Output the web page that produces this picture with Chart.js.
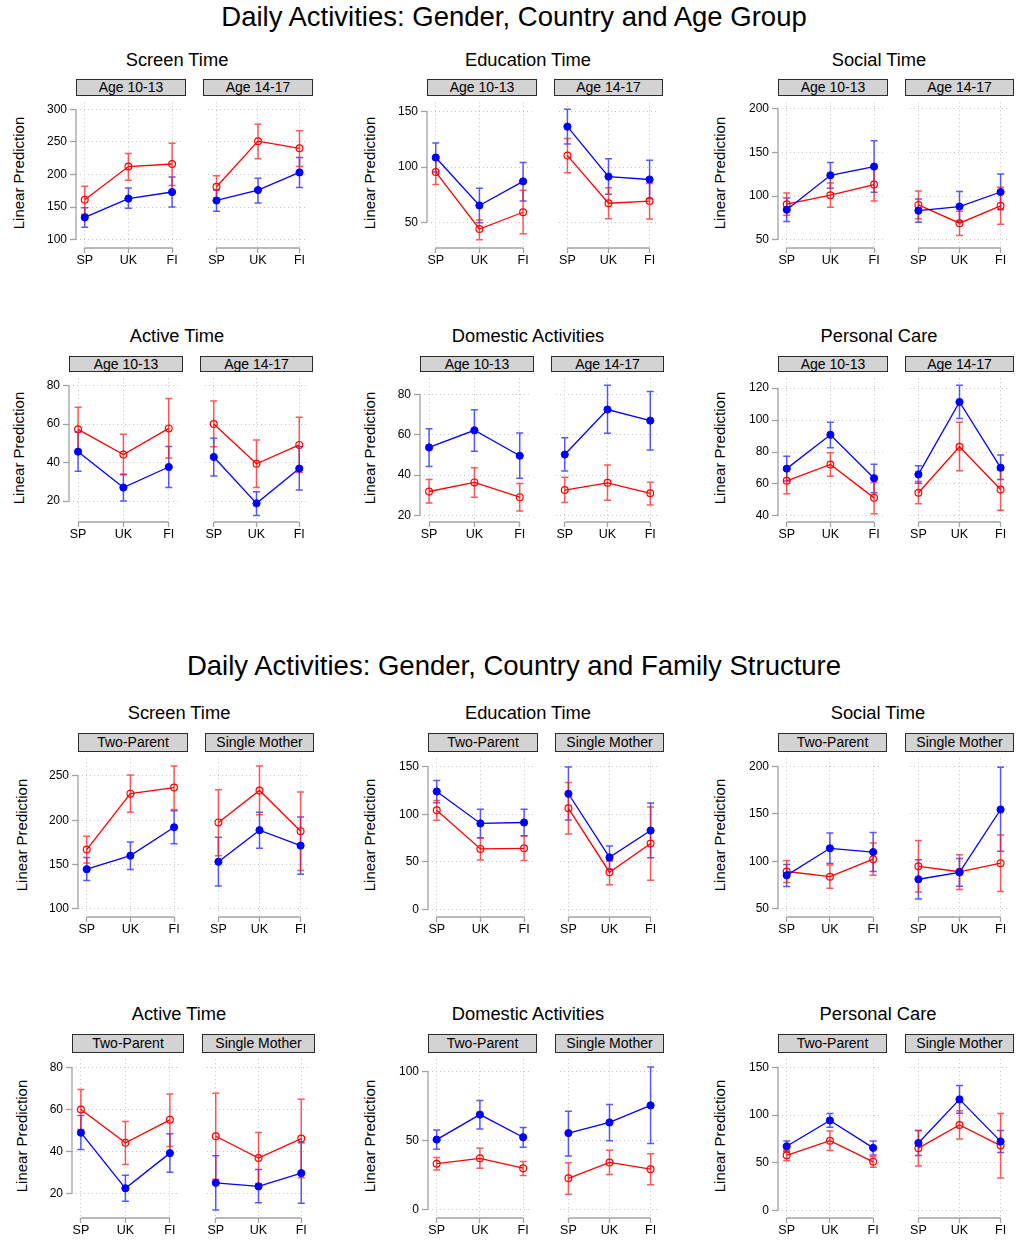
<!DOCTYPE html>
<html>
<head>
<meta charset="utf-8">
<title>Daily Activities</title>
<script src="https://cdn.jsdelivr.net/npm/chart.js@4.4.1/dist/chart.umd.min.js"></script>
<style>
  body { margin: 0; background: #fff; font-family: "Liberation Sans", Arial, Helvetica, sans-serif; }
  #page { position: relative; width: 1016px; height: 1240px; overflow: hidden; background: #fff; }
  .t { position: absolute; white-space: nowrap; transform: translate(-50%, -50%); color: #000; line-height: 1; }
  .strip { position: absolute; box-sizing: border-box; background: #d3d3d3; border: 1px solid #2b2b2b;
           text-align: center; font-size: 14px; color: #000; white-space: nowrap; }
  canvas { position: absolute; }
</style>
</head>
<body>
<div id="page"></div>
<script>
// ---------- categories and tick labels ----------
const countries   = ['SP', 'UK', 'FI'];
const ageGroups   = ['Age 10-13', 'Age 14-17'];
const familyTypes = ['Two-Parent', 'Single Mother'];

const ageScreenTicks    = [100, 150, 200, 250, 300];
const ageEducTicks      = [50, 100, 150];
const ageSocialTicks    = [50, 100, 150, 200];
const ageActiveTicks    = [20, 40, 60, 80];
const ageDomesticTicks  = [20, 40, 60, 80];
const agePersonalTicks  = [40, 60, 80, 100, 120];
const famScreenTicks    = [100, 150, 200, 250];
const famEducTicks      = [0, 50, 100, 150];
const famSocialTicks    = [50, 100, 150, 200];
const famActiveTicks    = [20, 40, 60, 80];
const famDomesticTicks  = [0, 50, 100];
const famPersonalTicks  = [0, 50, 100, 150];

// ---------- predictions with confidence limits ----------
// each entry: [panel 1 (SP, UK, FI), panel 2 (SP, UK, FI)]
const ageScreenGirls = { mean: [[134, 163, 173], [160, 176, 203]],
                         lo:   [[119, 148, 150], [143.5, 156, 180]],
                         hi:   [[149, 179, 196], [176, 194, 226]] };
const ageScreenBoys  = { mean: [[161, 212, 216], [181, 251, 240]],
                         lo:   [[139, 191, 183], [164, 224, 212]],
                         hi:   [[182, 232, 248], [198, 277, 267]] };

const ageEducGirls = { mean: [[108.6, 65.4, 87.1], [136.4, 91.4, 88.8]],
                       lo:   [[95.6, 49.8, 69.4], [120.7, 75.5, 71.4]],
                       hi:   [[121.6, 81, 104.2], [152, 107.4, 106.2]] };
const ageEducBoys  = { mean: [[95.5, 44.2, 59.3], [110.3, 67.4, 69.4]],
                       lo:   [[84.2, 34.6, 39.9], [94.9, 53.5, 53.2]],
                       hi:   [[106.8, 52.3, 79], [125.7, 81.3, 85.1]] };

const ageSocialGirls = { mean: [[84.4, 123.9, 133.9], [83.3, 88, 104.7]],
                         lo:   [[70.7, 109.1, 104.3], [70, 70.7, 84.4]],
                         hi:   [[97.7, 138.7, 163.4], [96.6, 105.4, 125.4]] };
const ageSocialBoys  = { mean: [[90.7, 101, 113.2], [89.9, 68.9, 88.8]],
                         lo:   [[78.1, 87.3, 94.3], [74, 54.8, 67.8]],
                         hi:   [[103.6, 115, 132.2], [105.8, 82.5, 110.2]] };

const ageActiveGirls = { mean: [[45.7, 27, 37.7], [42.9, 18.8, 36.9]],
                         lo:   [[35.5, 20, 27], [33, 12.5, 25.7]],
                         hi:   [[55.9, 33.9, 48.4], [52.6, 24.8, 48.4]] };
const ageActiveBoys  = { mean: [[57.3, 44.2, 57.8], [60.1, 39.4, 49.2]],
                         lo:   [[45.8, 33.7, 42.4], [48.2, 27, 34.9]],
                         hi:   [[68.8, 54.8, 73.3], [72, 51.8, 63.6]] };

const ageDomesticGirls = { mean: [[53.7, 62.2, 49.6], [50.2, 72.5, 67]],
                           lo:   [[44.3, 51.8, 38.5], [42, 60.7, 52.5]],
                           hi:   [[63, 72.4, 60.9], [58.5, 84.5, 81.4]] };
const ageDomesticBoys  = { mean: [[31.9, 36.4, 29.1], [32.6, 36.2, 31]],
                           lo:   [[26.2, 29.1, 22.2], [26.4, 27.6, 25.2]],
                           hi:   [[37.8, 43.7, 35.9], [38.9, 45, 36.5]] };

const agePersonalGirls = { mean: [[69.6, 90.8, 63.6], [66, 111.3, 70.2]],
                           lo:   [[61.9, 82.7, 54.5], [60.4, 100.9, 62.8]],
                           hi:   [[77.3, 98.6, 72.4], [71.4, 121.8, 78.1]] };
const agePersonalBoys  = { mean: [[62, 72.2, 51.3], [54.5, 83.3, 56.5]],
                           lo:   [[53.9, 64.8, 41.4], [47.7, 68.2, 43.6]],
                           hi:   [[70.1, 79.5, 61], [61.6, 98.6, 68.6]] };

const famScreenGirls = { mean: [[144.8, 160.1, 192.1], [153.2, 188.8, 171.4]],
                         lo:   [[132, 144.4, 173.5], [125.9, 168.4, 139]],
                         hi:   [[157.9, 175.4, 210.7], [180.8, 208.9, 203.8]] };
const famScreenBoys  = { mean: [[167, 230, 236.9], [197.6, 233.6, 187.7]],
                         lo:   [[151.7, 208.9, 212.1], [160.1, 206.3, 143.3]],
                         hi:   [[181.9, 251.1, 261.3], [234.3, 261.3, 231.8]] };

const famEducGirls = { mean: [[123.9, 90.3, 91.3], [121.5, 54.6, 82.8]],
                       lo:   [[112, 75.3, 77.4], [94, 42.4, 54.3]],
                       hi:   [[135.4, 105.2, 105.2], [149.7, 66.5, 111.7]] };
const famEducBoys  = { mean: [[104.2, 63.5, 64.1], [106.2, 39, 69.2]],
                       lo:   [[93.7, 51.9, 51.2], [79.1, 25.8, 30.5]],
                       hi:   [[114.4, 75, 77], [133.4, 50.6, 107.6]] };

const famSocialGirls = { mean: [[85.1, 113.7, 109.7], [81, 88.2, 154.7]],
                         lo:   [[73.2, 97.7, 89.2], [60.2, 73.5, 110.7]],
                         hi:   [[96.7, 129.8, 130.5], [101.5, 102.8, 199.3]] };
const famSocialBoys  = { mean: [[89.2, 83.7, 102.2], [94.7, 88.9, 98]],
                         lo:   [[77.6, 71.5, 85.1], [67.4, 70.1, 68.1]],
                         hi:   [[100.8, 96, 119.2], [121.9, 106.9, 127.7]] };

const famActiveGirls = { mean: [[48.9, 22.5, 39.2], [25.1, 23.4, 29.7]],
                         lo:   [[40.9, 16.3, 30.1], [12.2, 15.6, 15.4]],
                         hi:   [[57.1, 28.7, 48.4], [38, 31.4, 44.1]] };
const famActiveBoys  = { mean: [[59.9, 44.1, 55], [47.2, 36.9, 46.1]],
                         lo:   [[50.4, 33.8, 42.4], [26.8, 24.8, 27.5]],
                         hi:   [[69.4, 54.2, 67.3], [67.6, 49, 64.8]] };

const famDomesticGirls = { mean: [[50.8, 68.9, 52.5], [55.5, 63.2, 75.6]],
                           lo:   [[43.8, 58.5, 45.2], [38.9, 49.9, 48]],
                           hi:   [[57.8, 79.2, 59.5], [71.4, 76.3, 103.5]] };
const famDomesticBoys  = { mean: [[33.3, 37.2, 30], [22.7, 34.2, 29.3]],
                           lo:   [[28.8, 30, 24.8], [11.2, 25.5, 18]],
                           hi:   [[37.7, 44.5, 34.9], [34, 43.1, 40.5]] };

const famPersonalGirls = { mean: [[67.2, 94.3, 65.5], [70.6, 116.4, 72.3]],
                           lo:   [[61.8, 87.2, 58], [57.4, 101.8, 60.7]],
                           hi:   [[72.6, 101.5, 72.6], [83.8, 131, 83.8]] };
const famPersonalBoys  = { mean: [[57.7, 73, 50.9], [65.2, 89.6, 67.9]],
                           lo:   [[51.9, 62.8, 45.1], [46.5, 74.7, 34]],
                           hi:   [[63.1, 83.1, 56.3], [83.8, 104.5, 101.5]] };

// ---------- page layout ----------
const rowA1 = { titleY: 60,   stripTop: 79,   stripBottom: 96,   plotBottom: 248 };
const rowA2 = { titleY: 336,  stripTop: 356,  stripBottom: 372,  plotBottom: 522 };
const rowB1 = { titleY: 713,  stripTop: 733,  stripBottom: 752,  plotBottom: 917 };
const rowB2 = { titleY: 1014, stripTop: 1034, stripBottom: 1053, plotBottom: 1218 };

const subplots = [
  { title: 'Screen Time', strips: ageGroups, row: rowA1, girls: ageScreenGirls, boys: ageScreenBoys,
    ticks: ageScreenTicks, yMin: 87.1, yMax: 310.8, titleX: 177, yTitleX: 18, boxes: [[76, 186], [203, 313]] },
  { title: 'Education Time', strips: ageGroups, row: rowA1, girls: ageEducGirls, boys: ageEducBoys,
    ticks: ageEducTicks, yMin: 27.1, yMax: 158.4, titleX: 528, yTitleX: 369, boxes: [[427, 537], [554, 663]] },
  { title: 'Social Time', strips: ageGroups, row: rowA1, girls: ageSocialGirls, boys: ageSocialBoys,
    ticks: ageSocialTicks, yMin: 40.4, yMax: 207.8, titleX: 879, yTitleX: 719, boxes: [[778, 888], [905, 1014]] },
  { title: 'Active Time', strips: ageGroups, row: rowA2, girls: ageActiveGirls, boys: ageActiveBoys,
    ticks: ageActiveTicks, yMin: 9.1, yMax: 83.9, titleX: 177, yTitleX: 18, boxes: [[69, 183], [200, 313]] },
  { title: 'Domestic Activities', strips: ageGroups, row: rowA2, girls: ageDomesticGirls, boys: ageDomesticBoys,
    ticks: ageDomesticTicks, yMin: 16.8, yMax: 88.0, titleX: 528, yTitleX: 369, boxes: [[420, 534], [551, 664]] },
  { title: 'Personal Care', strips: ageGroups, row: rowA2, girls: agePersonalGirls, boys: agePersonalBoys,
    ticks: agePersonalTicks, yMin: 36.2, yMax: 126.2, titleX: 879, yTitleX: 719, boxes: [[778, 888], [905, 1014]] },

  { title: 'Screen Time', strips: familyTypes, row: rowB1, girls: famScreenGirls, boys: famScreenBoys,
    ticks: famScreenTicks, yMin: 90.9, yMax: 270.0, titleX: 179, yTitleX: 21, boxes: [[78, 188], [205, 314]] },
  { title: 'Education Time', strips: familyTypes, row: rowB1, girls: famEducGirls, boys: famEducBoys,
    ticks: famEducTicks, yMin: -8.1, yMax: 158.9, titleX: 528, yTitleX: 369, boxes: [[428, 538], [555, 664]] },
  { title: 'Social Time', strips: familyTypes, row: rowB1, girls: famSocialGirls, boys: famSocialBoys,
    ticks: famSocialTicks, yMin: 41.1, yMax: 208.9, titleX: 878, yTitleX: 719, boxes: [[778, 887], [905, 1014]] },
  { title: 'Active Time', strips: familyTypes, row: rowB2, girls: famActiveGirls, boys: famActiveBoys,
    ticks: famActiveTicks, yMin: 8.4, yMax: 83.8, titleX: 179, yTitleX: 21, boxes: [[72, 184], [202, 315]] },
  { title: 'Domestic Activities', strips: familyTypes, row: rowB2, girls: famDomesticGirls, boys: famDomesticBoys,
    ticks: famDomesticTicks, yMin: -6.1, yMax: 109.1, titleX: 528, yTitleX: 369, boxes: [[428, 537], [555, 664]] },
  { title: 'Personal Care', strips: familyTypes, row: rowB2, girls: famPersonalGirls, boys: famPersonalBoys,
    ticks: famPersonalTicks, yMin: -8.1, yMax: 158.6, titleX: 878, yTitleX: 719, boxes: [[778, 887], [905, 1014]] }
];

const mainTitles = [
  { text: 'Daily Activities: Gender, Country and Age Group', x: 514, y: 17 },
  { text: 'Daily Activities: Gender, Country and Family Structure', x: 514, y: 666 }
];

// ---------- drawing helpers ----------
Chart.defaults.font.family = '"Liberation Sans", Arial, Helvetica, sans-serif';
const page = document.getElementById('page');

function addText(text, x, y, size, vertical) {
  const d = document.createElement('div');
  d.className = 't';
  d.textContent = text;
  d.style.left = x + 'px';
  d.style.top = y + 'px';
  d.style.fontSize = size + 'px';
  if (vertical) d.style.transform = 'translate(-50%, -50%) rotate(-90deg)';
  page.appendChild(d);
}

function addStrip(text, l, r, t, b) {
  const d = document.createElement('div');
  d.className = 'strip';
  d.textContent = text;
  d.style.left = l + 'px';
  d.style.top = t + 'px';
  d.style.width = (r - l) + 'px';
  d.style.height = (b - t) + 'px';
  d.style.lineHeight = (b - t - 2) + 'px';
  page.appendChild(d);
}

// confidence-interval caps, drawn beneath the connected points
const errorBars = {
  id: 'errorBars',
  beforeDatasetsDraw(chart) {
    const { ctx, scales: { x, y } } = chart;
    chart.data.datasets.forEach(ds => {
      ctx.save();
      ctx.strokeStyle = ds.errColor;
      ctx.lineWidth = 1.5;
      ds.data.forEach((pt, i) => {
        const px = x.getPixelForValue(pt.x);
        const top = y.getPixelForValue(ds.hi[i]);
        const bot = y.getPixelForValue(ds.lo[i]);
        ctx.beginPath();
        ctx.moveTo(px, top); ctx.lineTo(px, bot);
        ctx.moveTo(px - 3.5, top); ctx.lineTo(px + 3.5, top);
        ctx.moveTo(px - 3.5, bot); ctx.lineTo(px + 3.5, bot);
        ctx.stroke();
      });
      ctx.restore();
    });
  }
};

// axis lines running between the outer ticks
const axisLines = {
  id: 'axisLines',
  beforeDatasetsDraw(chart, args, opts) {
    const { ctx, chartArea, scales: { x, y } } = chart;
    ctx.save();
    ctx.strokeStyle = '#a3a3a3';
    ctx.lineWidth = 1.3;
    ctx.beginPath();
    ctx.moveTo(x.getPixelForValue(0), chartArea.bottom);
    ctx.lineTo(x.getPixelForValue(countries.length - 1), chartArea.bottom);
    if (opts.left) {
      const t = opts.ticks;
      ctx.moveTo(chartArea.left, y.getPixelForValue(t[0]));
      ctx.lineTo(chartArea.left, y.getPixelForValue(t[t.length - 1]));
    }
    ctx.stroke();
    ctx.restore();
  }
};

function addPanel(sp, p) {
  const isLeft = p === 0;
  const [L, R] = sp.boxes[p];
  const top = sp.row.stripBottom + 1;
  const bottom = sp.row.plotBottom;
  const AXW = isLeft ? 50 : 0;
  const XH = 22;
  const w = R - L + AXW;
  const h = bottom - top + XH;

  const cv = document.createElement('canvas');
  cv.width = w; cv.height = h;
  cv.style.left = (L - AXW) + 'px';
  cv.style.top = top + 'px';
  cv.style.width = w + 'px';
  cv.style.height = h + 'px';
  page.appendChild(cv);

  const pts = arr => arr.map((v, i) => ({ x: i, y: v }));

  new Chart(cv, {
    type: 'line',
    data: {
      datasets: [
        {
          data: pts(sp.girls.mean[p]), lo: sp.girls.lo[p], hi: sp.girls.hi[p],
          errColor: 'rgba(25, 25, 255, 0.72)',
          borderColor: '#0000ff', borderWidth: 1.3, tension: 0,
          pointRadius: 3.6, pointBackgroundColor: '#0000ff', pointBorderColor: '#0000ff',
          pointBorderWidth: 1, clip: false
        },
        {
          data: pts(sp.boys.mean[p]), lo: sp.boys.lo[p], hi: sp.boys.hi[p],
          errColor: 'rgba(255, 25, 25, 0.72)',
          borderColor: '#ff0000', borderWidth: 1.3, tension: 0,
          pointRadius: 3.4, pointBackgroundColor: 'rgba(0,0,0,0)', pointBorderColor: '#ff0000',
          pointBorderWidth: 1.2, clip: false
        }
      ]
    },
    options: {
      responsive: false,
      animation: false,
      devicePixelRatio: 1,
      layout: { padding: 0 },
      events: [],
      plugins: {
        legend: { display: false },
        tooltip: { enabled: false },
        axisLines: { left: isLeft, ticks: sp.ticks }
      },
      scales: {
        x: {
          type: 'linear', min: -0.2, max: 2.2,
          afterBuildTicks: s => { s.ticks = countries.map((c, i) => ({ value: i })); },
          afterFit: s => { s.height = XH; s.paddingLeft = 0; s.paddingRight = 0; },
          ticks: { callback: v => countries[v], font: { size: 12.5 }, color: '#000', padding: 0,
                   maxRotation: 0, autoSkip: false },
          grid: { color: '#c4c4c4', lineWidth: 1, borderDash: [1, 3], tickLength: 5,
                  tickColor: '#a3a3a3', tickWidth: 1.3, tickBorderDash: [] },
          border: { display: false, dash: [1, 3] }
        },
        y: {
          type: 'linear', min: sp.yMin, max: sp.yMax,
          afterBuildTicks: s => { s.ticks = sp.ticks.map(v => ({ value: v })); },
          afterFit: s => { s.width = AXW; s.paddingTop = 0; s.paddingBottom = 0; },
          ticks: { display: isLeft, font: { size: 12 }, color: '#000', padding: 3, autoSkip: false },
          grid: { color: '#c4c4c4', lineWidth: 1, borderDash: [1, 3], drawTicks: isLeft, tickLength: 6,
                  tickColor: '#a3a3a3', tickWidth: 1.3, tickBorderDash: [] },
          border: { display: false, dash: [1, 3] }
        }
      }
    },
    plugins: [axisLines, errorBars]
  });
}

// ---------- build the page ----------
mainTitles.forEach(t => addText(t.text, t.x, t.y, 27.5));

subplots.forEach(sp => {
  addText(sp.title, sp.titleX, sp.row.titleY, 18.3);
  const midY = (sp.row.stripBottom + 1 + sp.row.plotBottom) / 2;
  addText('Linear Prediction', sp.yTitleX, midY, 15, true);
  sp.boxes.forEach(([l, r], p) => {
    addStrip(sp.strips[p], l, r, sp.row.stripTop, sp.row.stripBottom);
    addPanel(sp, p);
  });
});
</script>
</body>
</html>
